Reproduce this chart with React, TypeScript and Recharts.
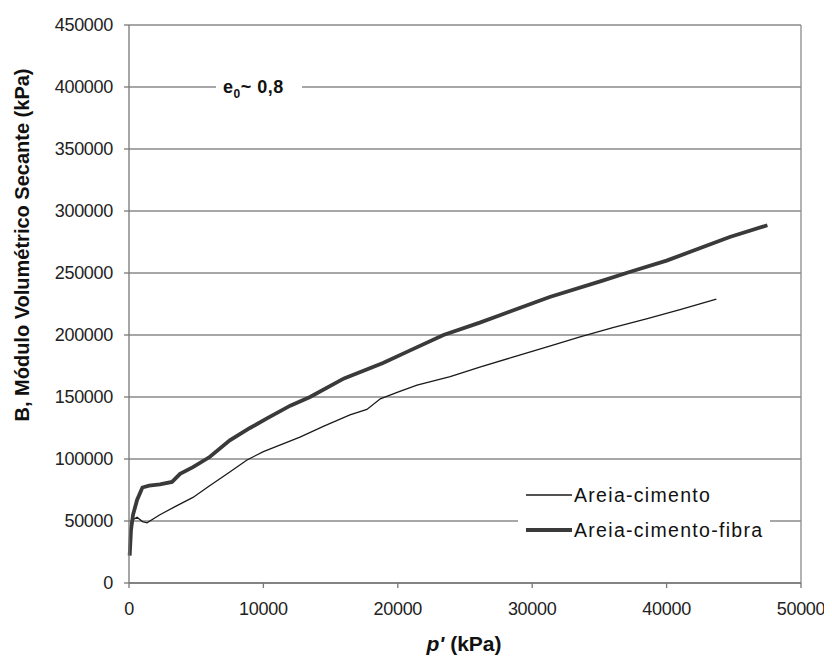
import React from 'react';
import { LineChart, Line, XAxis, YAxis, CartesianGrid, ReferenceLine, Legend, Label } from 'recharts';

// p' (kPa) vs secant bulk modulus B (kPa)
const pCimento = [50, 150, 300, 600, 1000, 1340, 2300, 3500, 4760, 6000, 7500, 8780, 10000, 12720, 14500, 16440, 17700, 18700, 20000, 21430, 23900, 26100, 28500, 31300, 33560, 36000, 38500, 41000, 43700];
const bCimento = [24000, 40000, 51000, 53000, 49500, 48500, 55000, 62000, 69000, 78500, 89500, 99200, 106000, 117700, 126500, 135500, 140000, 148500, 154000, 159500, 166500, 174000, 182000, 191000, 198500, 206000, 213000, 220500, 229000];

const pFibra = [50, 150, 300, 600, 1000, 1500, 2300, 3200, 3800, 4760, 6000, 7500, 9000, 10300, 12000, 13470, 16000, 18900, 21000, 23400, 26100, 27600, 31300, 35300, 37300, 40000, 44700, 47500];
const bFibra = [22000, 43000, 55000, 67000, 77000, 78500, 79500, 81500, 88000, 93500, 101600, 115000, 125000, 133000, 143000, 150000, 165000, 177400, 188000, 200000, 210000, 216000, 230600, 244000, 251000, 260000, 279000, 288500];

const seriesNames = ['Areia-cimento', 'Areia-cimento-fibra'];
const xTicks = [0, 10000, 20000, 30000, 40000, 50000];
const yTicks = [0, 50000, 100000, 150000, 200000, 250000, 300000, 350000, 400000, 450000];

const cimento = pCimento.map((p, i) => ({ p, b: bCimento[i] }));
const fibra = pFibra.map((p, i) => ({ p, b: bFibra[i] }));

const FONT = '"Liberation Sans", Arial, sans-serif';
const GRID = '#8a8a8a';
const tickStyle = { fill: '#222', fontSize: 18, fontFamily: FONT, letterSpacing: -0.3 };

function LegendBox() {
  const row = (label: string, width: number, top: number) => (
    <div key={label} style={{ position: 'absolute', left: 0, top, height: 24, display: 'flex', alignItems: 'center' }}>
      <svg width={56} height={24} style={{ display: 'block' }}>
        <line x1={8} x2={54} y1={12} y2={12} stroke={width > 2 ? '#3a3a3a' : '#1a1a1a'} strokeWidth={width} />
      </svg>
      <span style={{ fontFamily: FONT, fontSize: 19.5, letterSpacing: 1.3, color: '#111', lineHeight: '24px' }}>{label}</span>
    </div>
  );
  return (
    <div style={{ position: 'relative', width: 250, height: 76 }}>
      {row(seriesNames[0], 1.3, 13)}
      {row(seriesNames[1], 4, 48)}
    </div>
  );
}

export default function App() {
  return (
    <div style={{ position: 'relative', width: 816, height: 652, background: '#fff' }}>
      <LineChart width={816} height={652} margin={{ top: 17, right: 23, bottom: 37, left: 41 }}>
        <CartesianGrid vertical={false} stroke={GRID} strokeWidth={1.3} />
        <XAxis
          type="number"
          dataKey="p"
          domain={[0, 50000]}
          ticks={xTicks}
          interval={0}
          height={40}
          tick={tickStyle}
          tickSize={5}
          tickMargin={14}
          stroke="#777"
          strokeWidth={1.3}
        >
          <Label
            content={() => (
              <text x={456} y={643} textAnchor="middle" fontFamily={FONT} fontWeight="bold" fontSize={21} fill="#111">
                <tspan fontStyle="italic">p'</tspan> (kPa)
              </text>
            )}
          />
        </XAxis>
        <YAxis
          type="number"
          dataKey="b"
          domain={[0, 450000]}
          ticks={yTicks}
          interval={0}
          width={80}
          tick={tickStyle}
          tickSize={5}
          tickMargin={11}
          stroke="#777"
          strokeWidth={1.3}
        >
          <Label
            content={() => (
              <text
                x={14}
                y={237}
                transform="rotate(-90 14 237)"
                textAnchor="middle"
                dominantBaseline="central"
                fontFamily={FONT}
                fontWeight="bold"
                fontSize={20}
                fill="#111"
              >
                B, Módulo Volumétrico Secante (kPa)
              </text>
            )}
          />
        </YAxis>
        <ReferenceLine x={50000} stroke={GRID} strokeWidth={1.3} />
        <Legend
          layout="vertical"
          align="center"
          verticalAlign="middle"
          content={() => <LegendBox />}
          wrapperStyle={{ position: 'absolute', left: 510, top: 462, width: 252, height: 76, background: '#fff' }}
        />
        <Line
          data={cimento}
          dataKey="b"
          name={seriesNames[0]}
          type="linear"
          stroke="#1a1a1a"
          strokeWidth={1.3}
          dot={false}
          isAnimationActive={false}
        />
        <Line
          data={fibra}
          dataKey="b"
          name={seriesNames[1]}
          type="linear"
          stroke="#3a3a3a"
          strokeWidth={3.8}
          dot={false}
          isAnimationActive={false}
        />
      </LineChart>
      <div
        style={{
          position: 'absolute',
          left: 208,
          top: 66,
          width: 86,
          height: 26,
          background: '#fff',
          fontFamily: FONT,
          fontWeight: 'bold',
          fontSize: 18,
          letterSpacing: 0.5,
          color: '#111',
          lineHeight: '26px',
          paddingLeft: 7,
          boxSizing: 'border-box',
          whiteSpace: 'nowrap',
        }}
      >
        e<sub style={{ fontSize: 12 }}>0</sub>~ 0,8
      </div>
    </div>
  );
}
